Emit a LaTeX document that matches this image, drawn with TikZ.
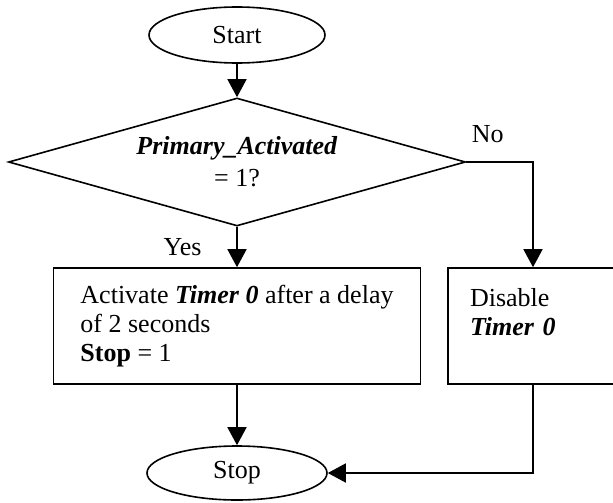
\documentclass[tikz,border=0pt]{standalone}
\usepackage{fontspec}
\setmainfont{Liberation Serif}
\usetikzlibrary{shapes.geometric, arrows.meta}

\begin{document}
\begin{tikzpicture}[x=1pt, y=1pt, thick,
 every node/.style={font=\fontsize{13}{14.5}\selectfont},
 term node/.style={ellipse, draw, minimum width=88pt, minimum height=28pt, inner sep=0pt},
 test node/.style={diamond, draw, aspect=3.5, minimum width=228.5pt, minimum height=64pt,
   inner sep=0pt, align=center, font=\fontsize{13}{16}\selectfont},
 task node/.style={rectangle, draw, minimum height=58pt, align=left, inner xsep=11pt},
 flow/.style={-{Triangle[length=9pt,width=9.5pt]}}]

  \useasboundingbox (-118.5,17.5) rectangle (188,-233.5);

  \node[term node] (start) {Start};
  \node[test node] (test) [below of=start, node distance=63.5pt] {\textbf{\textit{Primary\_Activated}}\\= 1?};
  \node[task node, minimum width=183.5pt] (act) [below of=test, node distance=82pt] {Activate \textbf{\textit{Timer 0}} after a delay\\of 2 seconds\\\textbf{Stop} = 1};
  \node[task node, text width=63pt] (dis) [right of=act, node distance=148pt] {Disable\\\textbf{\textit{Timer 0}}\\\mbox{}};
  \node[term node, minimum width=90pt, minimum height=27pt] (stop) [below of=act, node distance=73.5pt] {Stop};

  \draw[flow] (start) -- (test);
  \draw[flow] (test) -- node[left=14pt] (yes) {Yes} (act);
  \draw[flow] (test.east) -| node[pos=0.16, above=6pt] (no) {No} (dis.north);
  \draw[flow] (act) -- (stop);
  \draw[flow] (dis.south) |- (stop.east);
\end{tikzpicture}
\end{document}
